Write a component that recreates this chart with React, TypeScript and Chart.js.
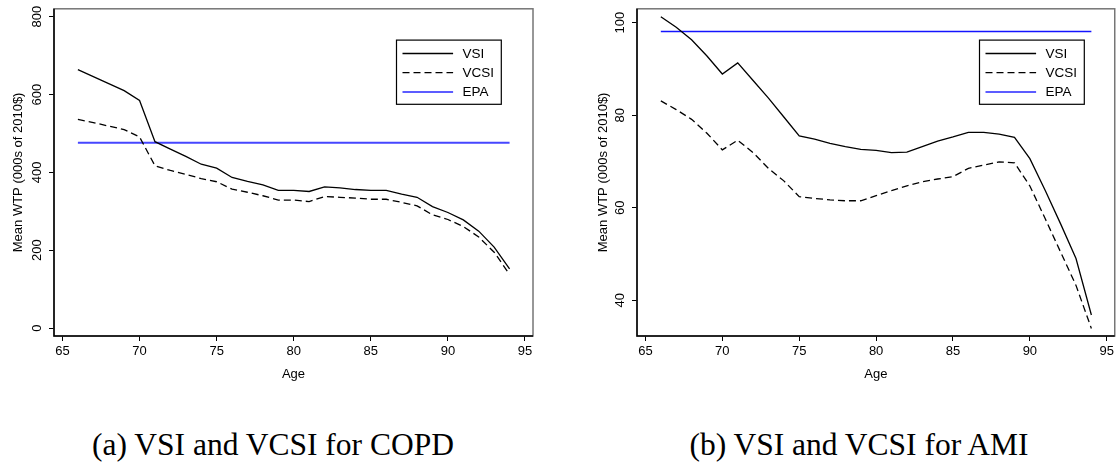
import React, { useEffect, useRef } from "react";
import { Chart, registerables } from "chart.js";

Chart.register(...registerables);

// ---------------- data ----------------
const ages = [66, 67, 68, 69, 70, 71, 72, 73, 74, 75, 76, 77, 78, 79, 80, 81, 82, 83, 84, 85, 86, 87, 88, 89, 90, 91, 92, 93, 94];

const copdVSI = [664, 646, 628, 610, 585, 479, 460, 441, 421, 411, 387, 377, 368, 354, 354, 351, 363, 360, 356, 354, 354, 344, 336, 312, 297, 278, 249, 208, 152];
const copdVCSI = [536, 528, 519, 510, 491, 417, 405, 395, 384, 376, 357, 349, 340, 329, 329, 325, 338, 336, 334, 331, 331, 323, 314, 291, 279, 261, 234, 195, 138];
const copdEPA = 476;

const amiVSI = [101.3, 99.0, 96.3, 92.8, 88.9, 91.3, 87.5, 83.7, 79.6, 75.5, 74.8, 73.9, 73.2, 72.6, 72.4, 71.9, 72.0, 73.2, 74.4, 75.3, 76.3, 76.3, 75.9, 75.2, 70.6, 63.7, 56.5, 49.0, 36.8];
const amiVCSI = [83.1, 81.2, 79.1, 76.1, 72.5, 74.6, 71.9, 68.5, 65.8, 62.4, 62.0, 61.7, 61.5, 61.5, 62.6, 63.7, 64.7, 65.6, 66.2, 66.7, 68.5, 69.2, 69.9, 69.7, 64.7, 57.6, 50.4, 43.2, 33.9];
const amiEPA = 98.1;

const xTicks = [65, 70, 75, 80, 85, 90, 95];
const copdYTicks = [0, 200, 400, 600, 800];
const amiYTicks = [40, 60, 80, 100];

const seriesLabels = ["VSI", "VCSI", "EPA"];
const xTitle = "Age";
const yTitle = "Mean WTP (000s of 2010$)";
const captionA = "(a) VSI and VCSI for COPD";
const captionB = "(b) VSI and VCSI for AMI";

// ---------------- styling ----------------
const SANS = '"Liberation Sans", Arial, Helvetica, sans-serif';
const SERIF = '"Liberation Serif", "Times New Roman", serif';

const framePlugin = {
  id: "frameBox",
  afterDraw(chart: any) {
    const { ctx, chartArea } = chart;
    const { left, right, top, bottom } = chartArea;
    ctx.save();
    ctx.lineWidth = 1.5;
    ctx.strokeStyle = "#767676";
    ctx.strokeRect(left, top, right - left, bottom - top);
    ctx.strokeStyle = "#000";
    ctx.beginPath();
    ctx.moveTo(left, top);
    ctx.lineTo(left, bottom);
    ctx.lineTo(right, bottom);
    ctx.stroke();

    // legend inside plot
    const opt = chart.options.plugins.boxLegend;
    if (opt) {
      const bx = left + opt.dx;
      const by = top + opt.dy;
      ctx.fillStyle = "#fff";
      ctx.fillRect(bx, by, opt.w, opt.h);
      ctx.lineWidth = 1.2;
      ctx.strokeStyle = "#000";
      ctx.strokeRect(bx, by, opt.w, opt.h);
      const rows = [13.4, 32.6, 51.8];
      chart.data.datasets.forEach((ds: any, i: number) => {
        const y = by + rows[i];
        ctx.save();
        ctx.beginPath();
        ctx.strokeStyle = ds.legendColor || ds.borderColor;
        ctx.lineWidth = ds.legendWidth || ds.borderWidth;
        ctx.setLineDash(ds.borderDash || []);
        ctx.moveTo(bx + 6, y);
        ctx.lineTo(bx + 56.6, y);
        ctx.stroke();
        ctx.restore();
        ctx.fillStyle = "#000";
        ctx.font = `13.5px ${SANS}`;
        ctx.textBaseline = "middle";
        ctx.textAlign = "left";
        ctx.fillText(ds.label, bx + 66, y + 0.5);
      });
    }
    ctx.restore();
  },
};

function makeConfig(vsi: number[], vcsi: number[], epa: number, yTicks: number[], yMin: number, yMax: number, epaColor: string, epaWidth: number, padLeft: number, padRight: number, titlePad: number) {
  const pts = (arr: number[]) => ages.map((a, i) => ({ x: a, y: arr[i] }));
  const epaPts = ages.map((a) => ({ x: a, y: epa }));
  const font = { family: SANS, size: 13 };
  return {
    type: "line",
    data: {
      datasets: [
        { label: seriesLabels[0], data: pts(vsi), borderColor: "#000", borderWidth: 1.3, pointRadius: 0, tension: 0, fill: false },
        { label: seriesLabels[1], data: pts(vcsi), borderColor: "#000", borderWidth: 1.3, borderDash: [7, 4], pointRadius: 0, tension: 0, fill: false },
        { label: seriesLabels[2], data: epaPts, borderColor: epaColor, borderWidth: epaWidth, legendColor: "#5c5cff", legendWidth: 2, pointRadius: 0, tension: 0, fill: false },
      ],
    },
    options: {
      animation: false,
      responsive: false,
      maintainAspectRatio: false,
      events: [],
      layout: { padding: { left: padLeft, right: padRight, top: 7, bottom: 0 } },
      plugins: {
        legend: { display: false },
        tooltip: { enabled: false },
        boxLegend: { dx: 342.5, dy: 31.3, w: 104.8, h: 64.2 },
      },
      scales: {
        x: {
          type: "linear",
          min: 64.45,
          max: 95.52,
          afterBuildTicks: (s: any) => {
            s.ticks = xTicks.map((v) => ({ value: v }));
          },
          afterFit: (s: any) => {
            s.height = 54;
          },
          grid: { drawOnChartArea: false, drawTicks: true, tickLength: 5, color: "#000", lineWidth: 1 },
          border: { display: false },
          ticks: { color: "#000", font, padding: 3, autoSkip: false, maxRotation: 0, minRotation: 0 },
          title: { display: true, text: xTitle, color: "#000", font, padding: { top: 0, bottom: 8 } },
        },
        y: {
          type: "linear",
          min: yMin,
          max: yMax,
          afterBuildTicks: (s: any) => {
            s.ticks = yTicks.map((v) => ({ value: v }));
          },
          afterFit: (s: any) => {
            s.width = 54;
          },
          grid: { drawOnChartArea: false, drawTicks: true, tickLength: 5, color: "#000", lineWidth: 1 },
          border: { display: false },
          ticks: { color: "#000", font, padding: 1, autoSkip: false, minRotation: 90, maxRotation: 90, crossAlign: "center" },
          title: { display: true, text: yTitle, color: "#000", font, padding: { top: titlePad, bottom: 0 } },
        },
      },
    },
    plugins: [framePlugin],
  } as any;
}

function ChartCanvas({ config, left, width, height }: { config: any; left: number; width: number; height: number }) {
  const ref = useRef<HTMLCanvasElement | null>(null);
  useEffect(() => {
    if (!ref.current) return;
    const chart = new Chart(ref.current, config);
    return () => chart.destroy();
  }, [config]);
  return (
    <canvas
      ref={ref}
      width={width}
      height={height}
      style={{ position: "absolute", left, top: 0, width, height, display: "block" }}
    />
  );
}

const configA = makeConfig(copdVSI, copdVCSI, copdEPA, copdYTicks, -20.4, 820.4, "#4646ff", 2, 0, 25, 10.2);
const configB = makeConfig(amiVSI, amiVCSI, amiEPA, amiYTicks, 32.26, 103.0, "#1414ff", 1.6, 25, 1, 12.2);

export default function App() {
  const capStyle: React.CSSProperties = {
    position: "absolute",
    top: 428.5,
    width: 500,
    textAlign: "center",
    fontFamily: SERIF,
    fontSize: 31.5,
    lineHeight: "31.5px",
    color: "#000",
    whiteSpace: "nowrap",
  };
  return (
    <div style={{ position: "absolute", left: 0, top: 0, width: 1117, height: 463, overflow: "hidden", background: "#fff" }}>
      <ChartCanvas config={configA} left={0} width={558} height={390} />
      <ChartCanvas config={configB} left={558} width={559} height={390} />
      <div style={{ ...capStyle, left: 273 - 250 }}>{captionA}</div>
      <div style={{ ...capStyle, left: 859 - 250 }}>{captionB}</div>
    </div>
  );
}
